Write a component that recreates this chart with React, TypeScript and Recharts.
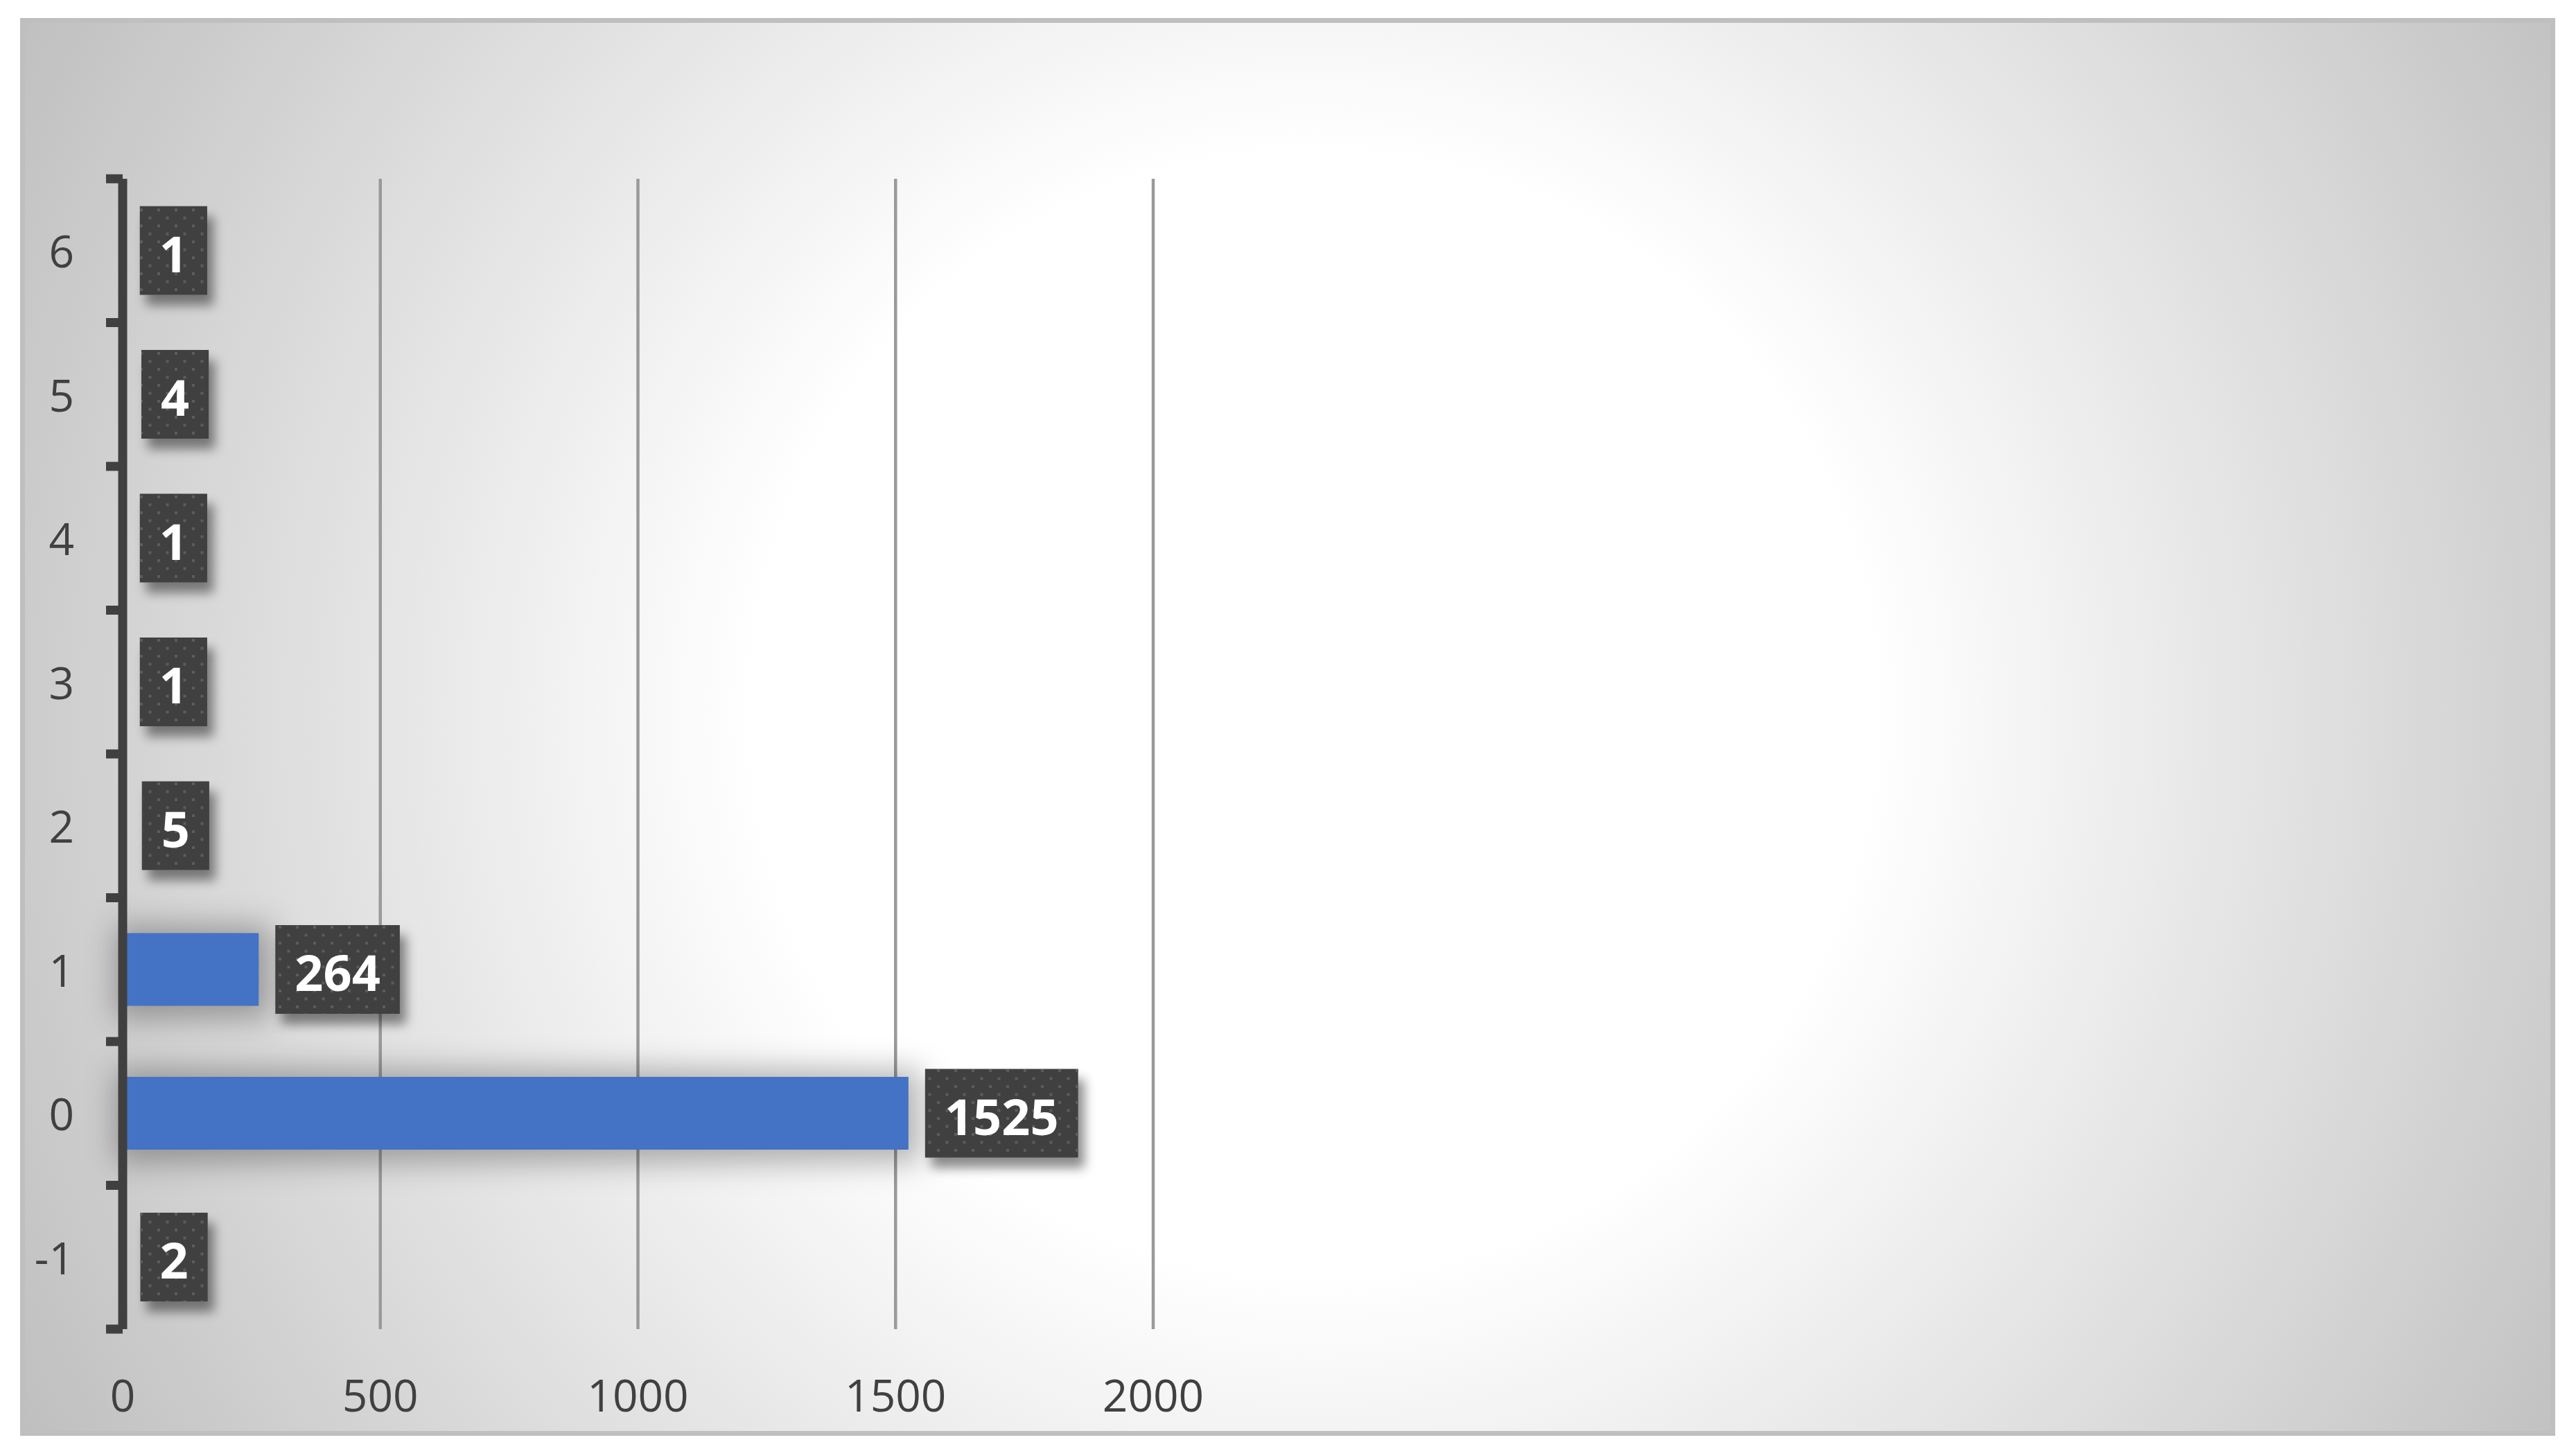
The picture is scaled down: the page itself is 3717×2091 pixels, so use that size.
import React from 'react';
import { BarChart, Bar, XAxis, YAxis, CartesianGrid, LabelList } from 'recharts';

const categories = ['6', '5', '4', '3', '2', '1', '0', '-1'];
const counts = [1, 4, 1, 1, 5, 264, 1525, 2];
const xTicks = [0, 500, 1000, 1500, 2000];

const data = categories.map((c, i) => ({ cat: c, count: counts[i] }));

const W = 3717;
const H = 2091;
const PLOT_TOP = 258;
const PLOT_BOTTOM = 1918;
const Y_TICK_MARGIN = 70;
const FONT = "'Open Sans', 'DejaVu Sans', sans-serif";
const AXIS_COLOR = '#404040';

function YTick(props: any) {
  const { x, y, payload, index } = props;
  const axisX = x + Y_TICK_MARGIN;
  const half =
    payload && payload.offset ? payload.offset : (PLOT_BOTTOM - PLOT_TOP) / categories.length / 2;
  return (
    <g>
      <line x1={axisX - 24} x2={axisX} y1={y - half} y2={y - half} stroke={AXIS_COLOR} strokeWidth={13} />
      {index === categories.length - 1 ? (
        <line x1={axisX - 24} x2={axisX} y1={y + half} y2={y + half} stroke={AXIS_COLOR} strokeWidth={13} />
      ) : null}
      <text
        x={x}
        y={y}
        textAnchor="end"
        dominantBaseline="central"
        fill={AXIS_COLOR}
        fontSize={64}
        fontFamily={FONT}
      >
        {payload.value}
      </text>
    </g>
  );
}

function ValueLabel(props: any) {
  const { x, y, width, height, value } = props;
  const s = String(value);
  const textW = s.length * 41.2;
  const bw = textW + 56;
  const bh = 128;
  const bx = x + width + 24;
  const cy = y + height / 2;
  return (
    <g>
      <rect x={bx} y={cy - bh / 2} width={bw} height={bh} fill="#404040" filter="url(#lblShadow)" />
      <rect x={bx} y={cy - bh / 2} width={bw} height={bh} fill="url(#dots)" />
      <text
        x={bx + bw / 2}
        y={cy + 3}
        textAnchor="middle"
        dominantBaseline="central"
        fill="#ffffff"
        fontWeight={700}
        fontSize={72}
        fontFamily={FONT}
      >
        {s}
      </text>
    </g>
  );
}

function BarShape(props: any) {
  const { x, y, width, height } = props;
  return <rect x={x} y={y} width={Math.max(width, 0)} height={height} fill="#4472C4" filter="url(#barShadow)" />;
}

export default function App() {
  return (
    <div style={{ position: 'absolute', left: 0, top: 0, width: W, height: H, background: '#ffffff', overflow: 'hidden' }}>
      <svg width={0} height={0} style={{ position: 'absolute' }}>
        <defs>
          <pattern id="dots" x={0} y={0} width={25} height={23} patternUnits="userSpaceOnUse">
            <rect x={2} y={2} width={4} height={4} fill="#5c5c5c" />
            <rect x={14.5} y={13.5} width={4} height={4} fill="#5c5c5c" />
          </pattern>
          <filter id="lblShadow" x="-30%" y="-40%" width="180%" height="200%">
            <feDropShadow dx={9} dy={15} stdDeviation={8} floodColor="#000000" floodOpacity={0.45} />
          </filter>
          <filter id="barShadow" x="-50%" y="-150%" width="200%" height="400%" colorInterpolationFilters="sRGB">
            <feMorphology in="SourceAlpha" operator="dilate" radius={14} result="spread" />
            <feGaussianBlur in="spread" stdDeviation={22} result="blur" />
            <feOffset in="blur" dx={4} dy={4} result="off" />
            <feFlood floodColor="#000000" floodOpacity={0.3} />
            <feComposite in2="off" operator="in" result="shadow" />
            <feMerge>
              <feMergeNode in="shadow" />
              <feMergeNode in="SourceGraphic" />
            </feMerge>
          </filter>
        </defs>
      </svg>
      <div
        style={{
          position: 'absolute',
          left: 29,
          top: 26,
          width: 3658,
          height: 2046,
          boxSizing: 'border-box',
          border: '7px solid #bfbfbf',
          background:
            'radial-gradient(circle farthest-corner at 51% 49%, #ffffff 0%, #ffffff 38%, #bfbfbf 100%)',
        }}
      />
      <div style={{ position: 'absolute', left: 0, top: 0 }}>
        <BarChart
          width={W}
          height={H}
          data={data}
          layout="vertical"
          margin={{ top: PLOT_TOP, right: W - 1664, bottom: H - PLOT_BOTTOM - 100, left: 0 }}
          style={{ fontFamily: FONT }}
        >
          <CartesianGrid horizontal={false} vertical={true} stroke="#9a9a9a" strokeWidth={4.5} />
          <XAxis
            type="number"
            domain={[0, 2000]}
            ticks={xTicks}
            height={100}
            axisLine={false}
            tickLine={false}
            tickSize={0}
            tickMargin={74}
            tick={{ fill: AXIS_COLOR, fontSize: 64, fontFamily: FONT }}
            interval={0}
          />
          <YAxis
            type="category"
            dataKey="cat"
            width={177}
            axisLine={{ stroke: AXIS_COLOR, strokeWidth: 13 }}
            tickLine={false}
            tickSize={0}
            tickMargin={Y_TICK_MARGIN}
            tick={<YTick />}
            interval={0}
          />
          <Bar dataKey="count" barSize={105} isAnimationActive={false} shape={<BarShape />}>
            <LabelList dataKey="count" content={<ValueLabel />} />
          </Bar>
        </BarChart>
      </div>
    </div>
  );
}
